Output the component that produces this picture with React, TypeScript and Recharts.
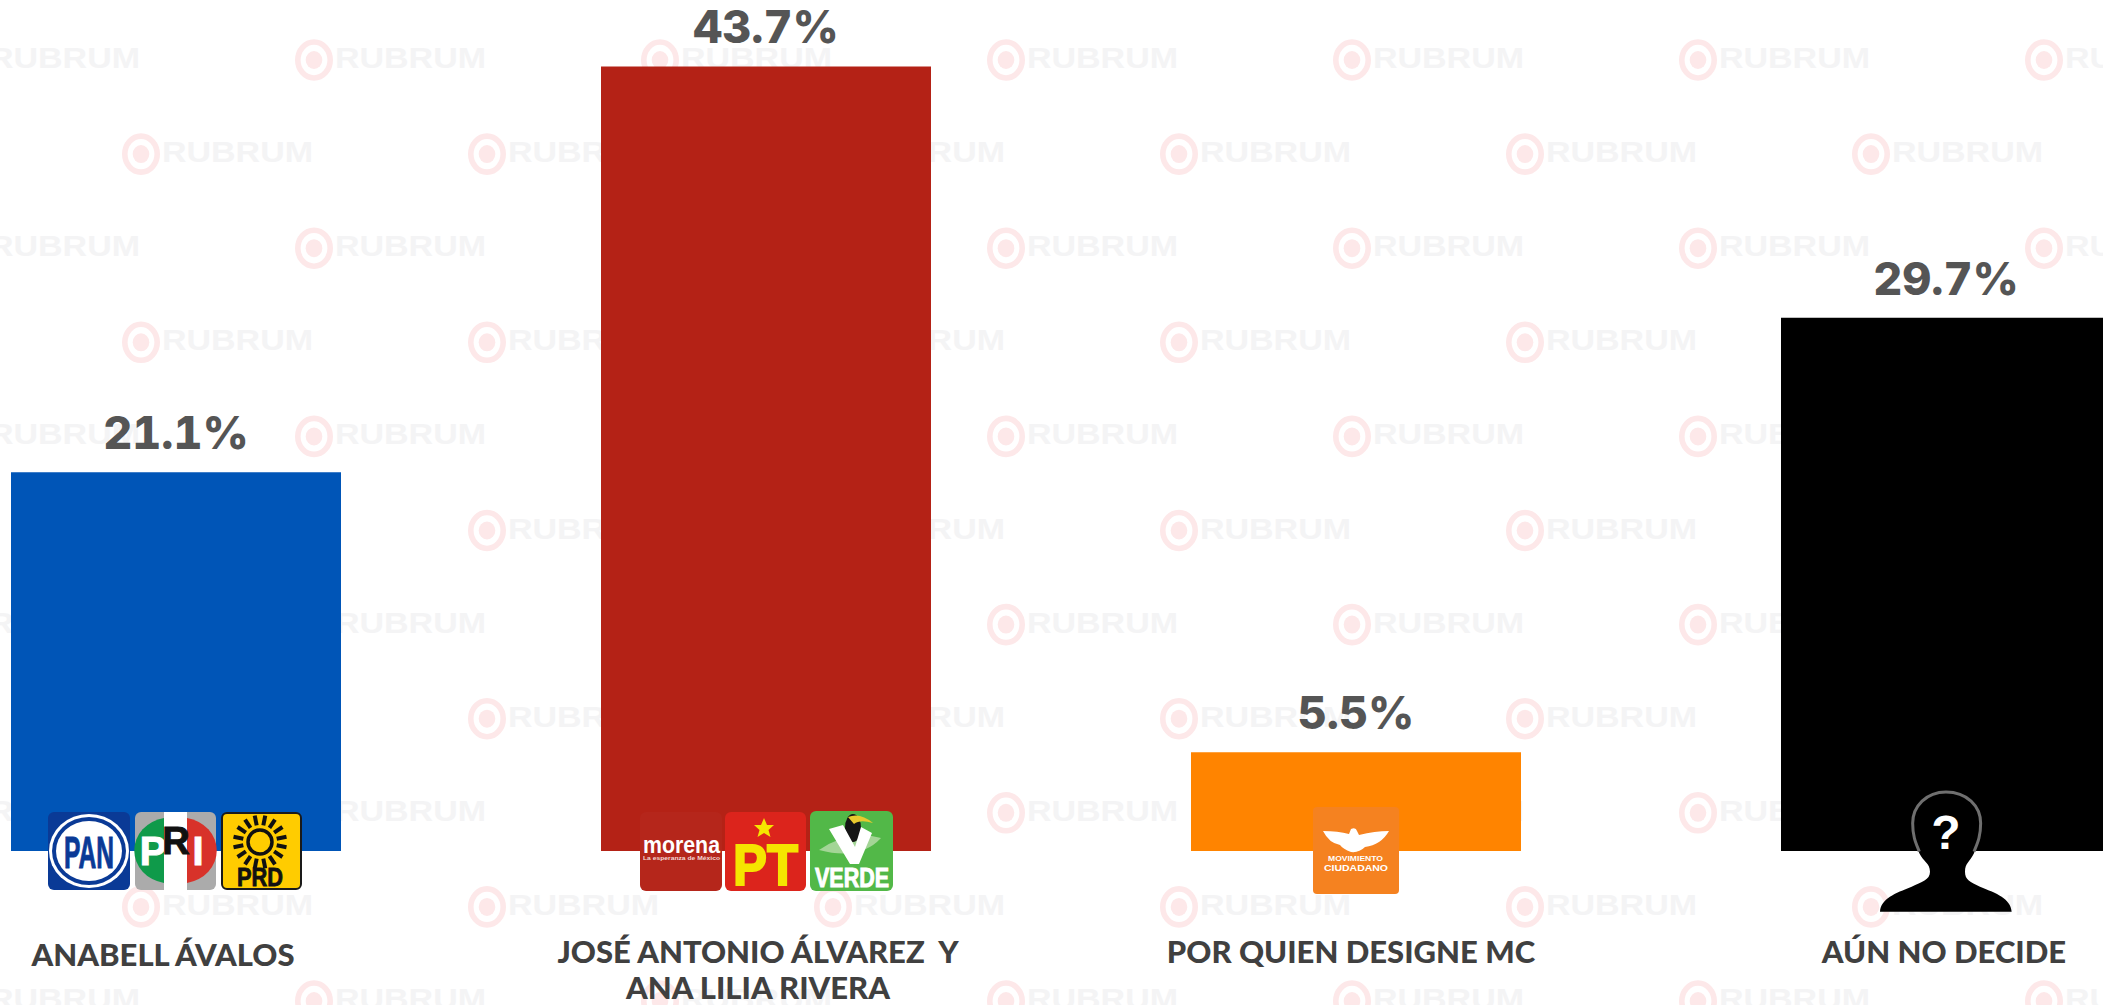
import React from 'react';
import { BarChart, Bar, Cell, XAxis, YAxis, LabelList } from 'recharts';

// Encuesta: intencion de voto
const categories = ['ANABELL ÁVALOS', 'JOSÉ ANTONIO ÁLVAREZ  Y\nANA LILIA RIVERA', 'POR QUIEN DESIGNE MC', 'AÚN NO DECIDE'];
const values = [21.1, 43.7, 5.5, 29.7];
const barColors = ['#0055b7', '#b42216', '#ff8400', '#000000'];
const logos = ['alianza', 'morena', 'mc', 'nadie'];

const chartData = categories.map((name, i) => ({ name, value: values[i], logo: logos[i] }));

// the labels in the source sit a little off their bars
const labelNudgeX = [-13, -8, -5, -2];
const labelNudgeY = [3, 0, 0, 0];

const SANS = 'Liberation Sans, Arial, sans-serif';
const NARROW = 'Liberation Sans Narrow, Liberation Sans, sans-serif';

const Watermark = () => {
  const rows = [0, 1, 2, 3, 4, 5, 6, 7, 8, 9, 10];
  const cols = [0, 1, 2, 3, 4, 5, 6];
  return (
    <svg width={2103} height={1005} style={{ position: 'absolute', left: 0, top: 0 }}>
      {rows.map(r =>
        cols.map(c => {
          const cx = (r % 2 === 0 ? -32 : 141) + 346 * c;
          const cy = 60 + 94.1 * r;
          return (
            <g key={`${r}-${c}`}>
              <ellipse cx={cx} cy={cy} rx={16.2} ry={18} fill="none" stroke="#fde8e9" strokeWidth={5.6} />
              <ellipse cx={cx} cy={cy} rx={8.3} ry={9} fill="#fde8e9" />
              <text x={cx + 21} y={cy + 8} fontFamily={SANS} fontWeight={700} fontSize={29} fill="#f4f4f5" textLength={151} lengthAdjust="spacingAndGlyphs">RUBRUM</text>
            </g>
          );
        })
      )}
    </svg>
  );
};

const Pan = () => (
  <g>
    <rect width={82} height={78} rx={6} fill="#0a3a96" />
    <ellipse cx={41} cy={39} rx={40} ry={37} fill="#fff" />
    <ellipse cx={41} cy={39} rx={37} ry={34} fill="#0a3a96" />
    <ellipse cx={41} cy={39} rx={33} ry={30} fill="#fff" />
    <text x={16} y={56} fontFamily={NARROW} fontWeight={700} fontSize={45} fill="#0a3a96" stroke="#0a3a96" strokeWidth={1} textLength={50} lengthAdjust="spacingAndGlyphs">PAN</text>
  </g>
);

const Pri = () => (
  <g>
    <rect width={81} height={78} rx={6} fill="#ababab" />
    <path d="M29 6 A36 33 0 0 0 29 71 Z" fill="#0f9a4a" />
    <path d="M52 6 A36 33 0 0 1 52 71 Z" fill="#d8322a" />
    <rect x={29} width={23} height={78} fill="#fff" />
    <text x={18} y={53} textAnchor="middle" fontFamily={NARROW} fontWeight={700} fontSize={40} fill="#fff" stroke="#fff" strokeWidth={1}>P</text>
    <text x={41} y={42} textAnchor="middle" fontFamily={NARROW} fontWeight={700} fontSize={38} fill="#111" stroke="#111" strokeWidth={1}>R</text>
    <text x={63} y={53} textAnchor="middle" fontFamily={NARROW} fontWeight={700} fontSize={40} fill="#fff" stroke="#fff" strokeWidth={1}>I</text>
  </g>
);

const Prd = () => (
  <g>
    <rect x={1} y={1} width={79} height={76} rx={5} fill="#ffcc00" stroke="#1a1a1a" strokeWidth={2} />
    {Array.from({ length: 16 }).map((_, i) => {
      const a = (i * Math.PI) / 8 + Math.PI / 16;
      return (
        <line key={i} x1={39 + 17 * Math.cos(a)} y1={30 + 17 * Math.sin(a)} x2={39 + 27 * Math.cos(a)} y2={30 + 27 * Math.sin(a)} stroke="#111" strokeWidth={4} />
      );
    })}
    <circle cx={39} cy={30} r={12} fill="none" stroke="#111" strokeWidth={3.5} />
    <text x={16} y={74} fontFamily={NARROW} fontWeight={700} fontSize={25} fill="#111" stroke="#111" strokeWidth={0.8} textLength={46} lengthAdjust="spacingAndGlyphs">PRD</text>
  </g>
);

const Morena = () => (
  <g>
    <rect width={82} height={79} rx={6} fill="#b5261b" />
    <text x={3} y={41} fontFamily={SANS} fontWeight={700} fontSize={23} fill="#fff" textLength={77} lengthAdjust="spacingAndGlyphs">morena</text>
    <text x={3} y={48} fontFamily={SANS} fontWeight={700} fontSize={5.5} fill="#f3d9d6" textLength={77} lengthAdjust="spacingAndGlyphs">La esperanza de México</text>
  </g>
);

const Pt = () => (
  <g>
    <rect width={81} height={79} rx={6} fill="#dc241c" />
    <path d="M39 6 L42 13 L49 13 L43.5 18 L45.5 25 L39 21 L32.5 25 L34.5 18 L29 13 L36 13 Z" fill="#f5e500" />
    <text x={8} y={73} fontFamily={SANS} fontWeight={700} fontSize={57} fill="#f5e500" stroke="#f5e500" strokeWidth={2} textLength={65} lengthAdjust="spacingAndGlyphs">PT</text>
  </g>
);

const Verde = () => (
  <g>
    <rect width={83} height={80} rx={6} fill="#52b848" />
    <path d="M9 39 Q40 18 71 27 Q50 50 9 39 Z" fill="#a3d596" />
    <ellipse cx={43} cy={17} rx={8} ry={14} fill="#151515" />
    <path d="M38 6 Q50 1 63 12 Q50 8 44 13 Z" fill="#e8c92e" />
    <path d="M19 18 L33 14 L45 36 L51 16 L62 22 L49 53 L40 53 Z" fill="#fff" />
    <text x={5} y={76} fontFamily={NARROW} fontWeight={700} fontSize={27} fill="#fff" stroke="#fff" strokeWidth={1} textLength={74} lengthAdjust="spacingAndGlyphs">VERDE</text>
  </g>
);

const Mc = () => (
  <g>
    <rect width={86} height={87} rx={4} fill="#f58220" />
    <path d="M10 24 Q25 24 36 27 L38 22 Q43 20 44 24 L46 28 Q62 24 76 24 Q68 38 52 40 Q46 46 38 45 Q30 42 27 38 Q16 36 10 24 Z" fill="#fff" />
    <text x={15} y={54} fontFamily={SANS} fontWeight={700} fontSize={7} fill="#fff" textLength={55} lengthAdjust="spacingAndGlyphs">MOVIMIENTO</text>
    <text x={11} y={64} fontFamily={SANS} fontWeight={700} fontSize={9} fill="#fff" textLength={64} lengthAdjust="spacingAndGlyphs">CIUDADANO</text>
  </g>
);

const Silueta = () => (
  <g transform="scale(0.3333)">
    <path
      d="M228 36 C290 36 332 78 332 130 C332 170 322 190 312 220 C300 245 285 250 285 275 C285 300 300 305 330 320 C380 340 422 355 425 395 L30 395 C33 355 75 340 125 320 C155 305 180 300 180 275 C180 250 160 245 148 220 C138 190 128 170 128 130 C128 78 170 36 228 36 Z"
      fill="#000"
    />
    <path d="M148 215 C138 190 128 170 128 130 C128 78 170 36 228 36 C290 36 332 78 332 130 C332 170 322 190 312 215" fill="none" stroke="#6f6f6f" strokeWidth={9} />
    <text x={228} y={208} textAnchor="middle" fontFamily={SANS} fontWeight={700} fontSize={144} fill="#fff">?</text>
  </g>
);

// party logos hang from the foot of each bar, drawn around the bar centre
const PartyLogos = ({ x, y, width, height, value }: any) => {
  const cx = x + width / 2;
  const base = y + height;
  const at = (dx: number, dy: number) => `translate(${cx + dx},${base + dy})`;
  if (value === 'alianza') {
    return (
      <g>
        <g transform={at(-128, -39)}><Pan /></g>
        <g transform={at(-41, -39)}><Pri /></g>
        <g transform={at(45, -39)}><Prd /></g>
      </g>
    );
  }
  if (value === 'morena') {
    return (
      <g>
        <g transform={at(-126, -39)}><Morena /></g>
        <g transform={at(-41, -39)}><Pt /></g>
        <g transform={at(44, -40)}><Verde /></g>
      </g>
    );
  }
  if (value === 'mc') return <g transform={at(-43, -44)}><Mc /></g>;
  return <g transform={at(-76, -71)}><Silueta /></g>;
};

const CategoryTick = ({ x, y, payload, index }: any) => {
  const lines = String(payload.value).split('\n');
  return (
    <text textAnchor="middle" fontFamily="Lato, sans-serif" fontWeight={900} fontSize={31} fill="#404040">
      {lines.map((line, i) => (
        <tspan key={i} x={x + labelNudgeX[index]} y={y + 106 + labelNudgeY[index] + i * 36} style={{ whiteSpace: 'pre' }}>{line}</tspan>
      ))}
    </text>
  );
};

export default function App() {
  return (
    <div style={{ position: 'absolute', left: 0, top: 0, width: 2103, height: 1005, overflow: 'hidden', background: '#fff' }}>
      <Watermark />
      <div style={{ position: 'absolute', left: -119, top: 0 }}>
        <BarChart width={2360} height={1005} data={chartData} margin={{ top: 0, right: 0, bottom: 0, left: 0 }}>
          <XAxis dataKey="name" height={154} axisLine={false} tickLine={false} tickMargin={0} interval={0} tick={<CategoryTick />} />
          <YAxis hide domain={[0, 47.4]} />
          <Bar dataKey="value" barSize={330} isAnimationActive={false}>
            {chartData.map((d, i) => (
              <Cell key={d.name} fill={barColors[i]} />
            ))}
            <LabelList dataKey="value" position="top" offset={23} formatter={(v: any) => `${v}%`} fontFamily="Inter, sans-serif" fontWeight={800} fontSize={45} fill="#555555" style={{ fontVariantNumeric: 'tabular-nums' }} />
            <LabelList dataKey="logo" content={<PartyLogos />} />
          </Bar>
        </BarChart>
      </div>
    </div>
  );
}
